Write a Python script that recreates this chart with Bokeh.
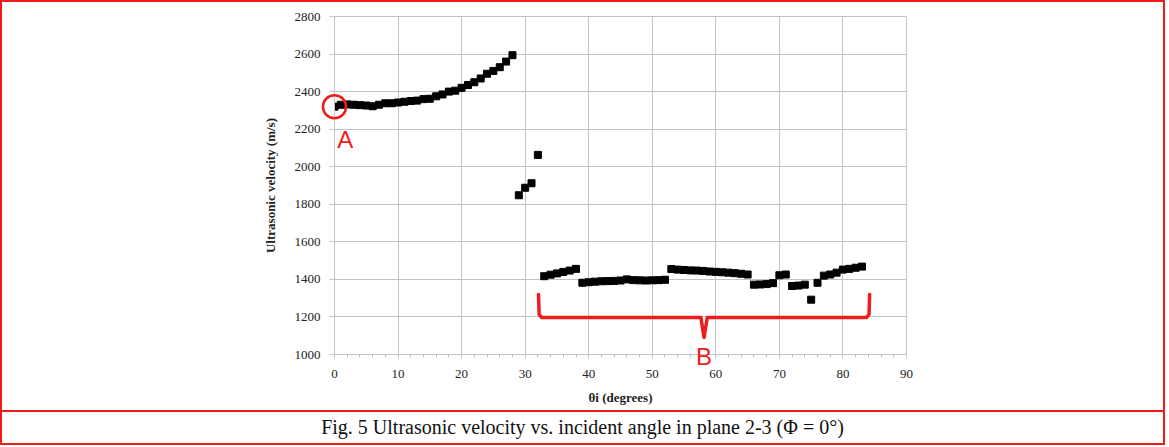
from bokeh.plotting import figure
from bokeh.models import Range1d, Div, FixedTicker
from bokeh.core.properties import value
from bokeh.layouts import column
from bokeh.embed import file_html
from bokeh.resources import INLINE

# ---- data ----
angle_a = list(range(0, 29))
vel_a = [2320, 2330, 2332, 2330, 2328, 2326, 2322, 2330, 2338, 2338, 2342, 2346, 2350,
         2352, 2360, 2362, 2375, 2385, 2400, 2405, 2420, 2435, 2450, 2470, 2495, 2510,
         2530, 2560, 2594]

angle_t = [29, 30, 31, 32]
vel_t = [1848, 1888, 1912, 2063]

angle_b = list(range(33, 84))
vel_b = [1417, 1425, 1432, 1440, 1447, 1456,
         1382, 1385, 1388, 1390, 1391, 1392, 1394, 1400, 1396, 1395, 1394, 1395, 1396, 1398,
         1455, 1452, 1450, 1448, 1447, 1445, 1442, 1440, 1438, 1436, 1433, 1430, 1426,
         1372, 1373, 1375, 1380, 1422, 1426,
         1365, 1367, 1372, 1292, 1382, 1420, 1426, 1436,
         1452, 1456, 1462, 1468]

x_ticks = [0, 10, 20, 30, 40, 50, 60, 70, 80, 90]
y_ticks = [1000, 1200, 1400, 1600, 1800, 2000, 2200, 2400, 2600, 2800]

GRID = "#c4c4c4"
RED = "#ee1c1c"
SERIF = "Liberation Serif"

W, H = 1161, 408
BL, BR, BT, BB = 332, 257, 14, 56
X0, X1, Y0, Y1 = 0, 90, 1000, 2800

p = figure(width=W, height=H, output_backend="svg", toolbar_location=None,
           x_range=Range1d(X0, X1), y_range=Range1d(Y0, Y1),
           min_border_left=BL, min_border_right=BR, min_border_top=BT, min_border_bottom=BB)
p.outline_line_color = GRID
p.outline_line_width = 1

p.xaxis.ticker = FixedTicker(ticks=x_ticks, minor_ticks=list(range(0, 91, 2)))
p.yaxis.ticker = FixedTicker(ticks=y_ticks)
for ax in (p.xaxis, p.yaxis):
    ax.axis_line_color = GRID
    ax.major_tick_line_color = GRID
    ax.minor_tick_line_color = GRID
    ax.major_label_text_font = SERIF
    ax.major_label_text_font_size = "13px"
    ax.major_label_text_color = "#222222"
    ax.axis_label_text_font = SERIF
    ax.axis_label_text_font_size = "13px"
    ax.axis_label_text_font_style = "bold"
    ax.axis_label_text_color = "#222222"
p.xaxis.major_tick_in = 0
p.xaxis.major_tick_out = 4
p.xaxis.minor_tick_in = 0
p.xaxis.minor_tick_out = 3
p.xaxis.major_label_standoff = 11
p.xaxis.axis_label = "θi (degrees)"
p.xaxis.axis_label_standoff = 9
p.yaxis.major_tick_in = 0
p.yaxis.major_tick_out = 5
p.yaxis.minor_tick_out = 0
p.yaxis.minor_tick_in = 0
p.yaxis.major_label_standoff = 9
p.yaxis.axis_label = "Ultrasonic velocity (m/s)"
p.yaxis.axis_label_standoff = 14

p.xgrid.grid_line_color = GRID
p.ygrid.grid_line_color = GRID
p.xgrid.ticker = FixedTicker(ticks=x_ticks)
p.ygrid.ticker = FixedTicker(ticks=y_ticks)

for xs, ys in ((angle_a, vel_a), (angle_t, vel_t), (angle_b, vel_b)):
    p.scatter(xs, ys, marker="square", size=7, color="black")

# ---- annotations: circle around point A, bracket under region B ----
p.scatter([angle_a[0]], [vel_a[0]], marker="circle", size=23, fill_color=None,
          line_color=RED, line_width=2.5, level="overlay")
p.text([angle_a[0] + 1.7], [2145], text=["A"], text_color=RED,
       text_font=value("Liberation Sans"), text_font_size="24px",
       text_align="center", text_baseline="middle", level="overlay")

bx0 = angle_b[0] - 0.9
bx1 = angle_b[-1] + 1.2
bxm = (bx0 + bx1) / 2
ytop, ymid, ybot = 1320, 1197, 1090
p.line([bx0, bx0 + 0.1, bx0 + 0.5, bxm - 0.5, bxm, bxm + 0.5, bx1 - 0.5, bx1 - 0.1, bx1],
       [ytop, ymid + 15, ymid, ymid, ybot, ymid, ymid, ymid + 15, ytop],
       line_color=RED, line_width=3.5, line_join="round", line_cap="round")
p.text([bxm], [990], text=["B"], text_color=RED,
       text_font=value("Liberation Sans"), text_font_size="24px",
       text_align="center", text_baseline="middle", level="overlay")

caption = Div(text="Fig. 5 Ultrasonic velocity vs. incident angle in plane 2-3 (Φ = 0°)",
              width=W, height=33, margin=(0, 0, 0, 0),
              styles={"font-family": "'Liberation Serif', serif", "font-size": "20px",
                      "text-align": "center", "color": "#111", "line-height": "31px",
                      "border-top": "2px solid " + RED, "width": str(W) + "px"})

layout = column(p, caption, styles={"border": "2px solid " + RED}, spacing=0)

open("out.html", "w").write(file_html(layout, INLINE))
